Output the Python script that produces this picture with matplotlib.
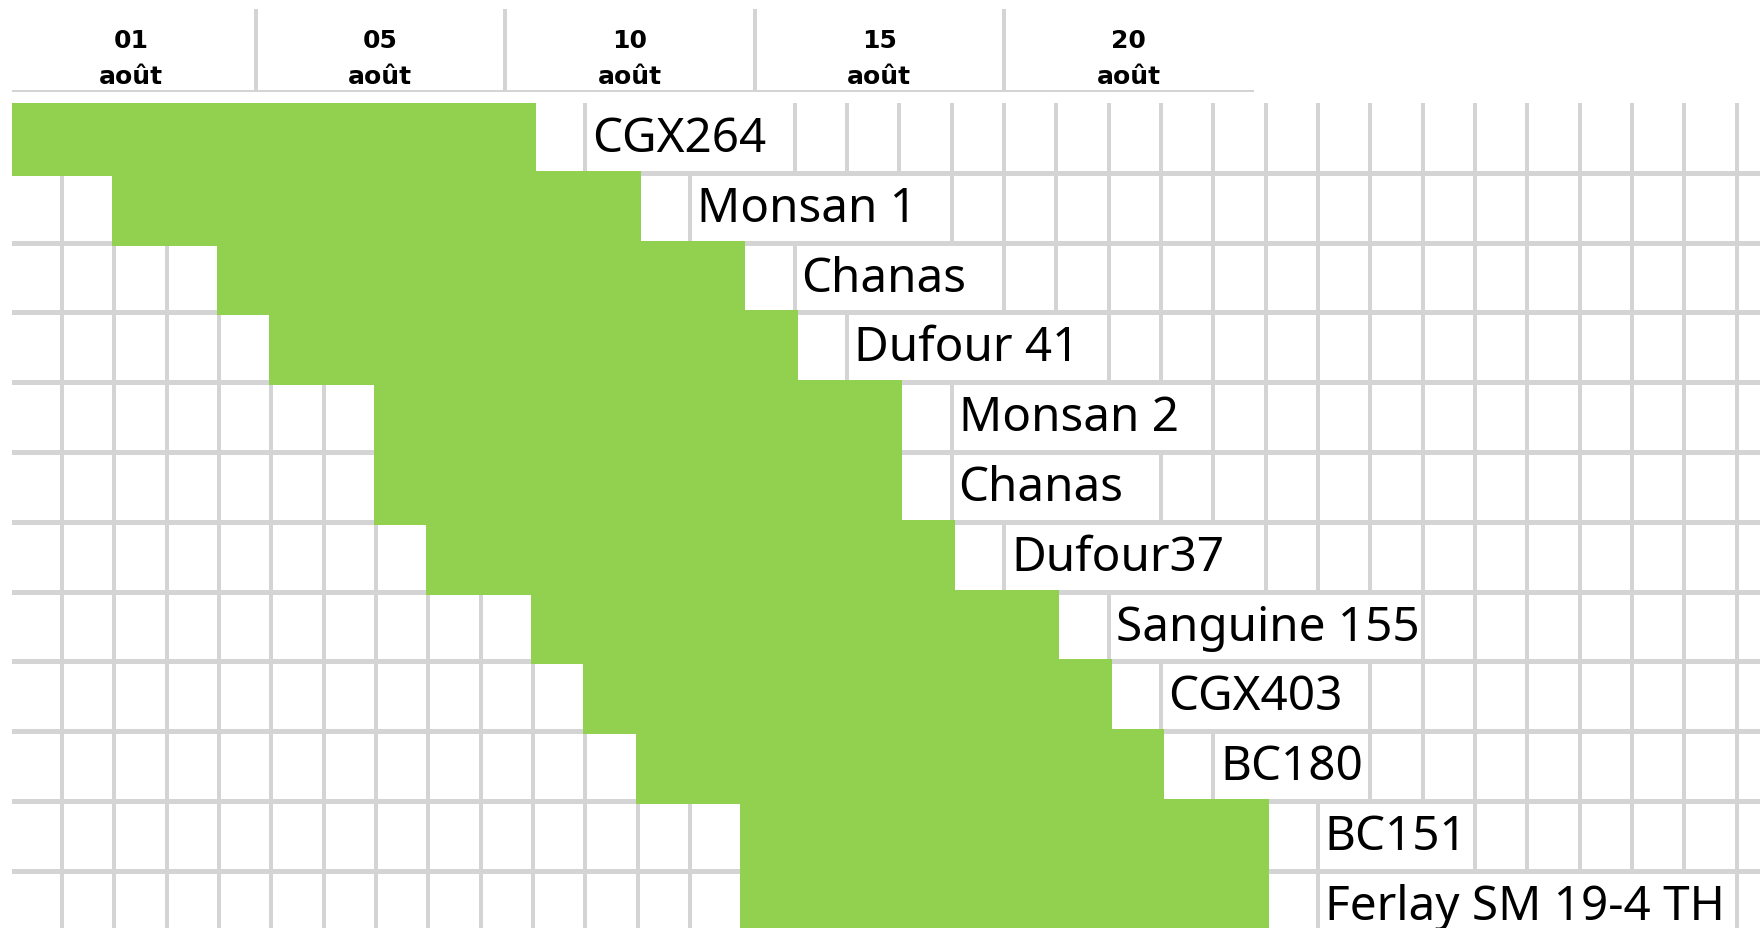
import math
import matplotlib
matplotlib.use("Agg")
import matplotlib.pyplot as plt
from matplotlib.patches import Rectangle

# ---- data ----
tasks = ["CGX264", "Monsan 1", "Chanas", "Dufour 41", "Monsan 2", "Chanas",
         "Dufour37", "Sanguine 155", "CGX403", "BC180", "BC151", "Ferlay SM 19-4 TH"]
start_day = [0, 2, 4, 5, 7, 7, 8, 10, 11, 12, 14, 14]
duration = [10, 10, 10, 10, 10, 10, 10, 10, 10, 10, 10, 10]
header_days = ["01", "05", "10", "15", "20"]
header_month = "août"

# ---- styles ----
GREEN = "#92D050"
GRID = "#D4D4D4"
W, H = 1760, 929
DPI = 100
PX = 72 / DPI

fig = plt.figure(figsize=(W / DPI, H / DPI), dpi=DPI)
fig.patch.set_facecolor("white")

# ---- main grid (Gantt) ----
col_w, col0, row_h, top, left = 52.33, 9.67, 69.8, 104, 12
ax = fig.add_axes([left / W, 0, (W - left) / W, (H - top) / H])
ax.set_xlim((left - col0) / col_w, (W - col0) / col_w)
ax.set_ylim((H - top) / row_h, 0)
ax.axis("off")

n_cols = int((W - col0) / col_w) + 1
for k in range(1, n_cols + 1):
    ax.axvline(k, color=GRID, lw=4 * PX, zorder=1)
n_rows = len(tasks)
for r in range(1, n_rows + 1):
    ax.axhline(r, color=GRID, lw=5 * PX, zorder=3)

ax.barh(range(n_rows), duration, left=start_day, height=1, align="edge",
        color=GREEN, edgecolor=GREEN, linewidth=5 * PX, zorder=4)

labels = []
for i, (name, s, d) in enumerate(zip(tasks, start_day, duration)):
    col = s + d + 1
    t = ax.annotate(name, xy=(col, i + 0.688), xytext=(5, 0),
                    textcoords="offset points", ha="left", va="baseline",
                    fontsize=34.3, family="Noto Sans", fontweight="medium",
                    color="black", zorder=5)
    labels.append((t, col, i))

fig.canvas.draw()
renderer = fig.canvas.get_renderer()
inv = ax.transData.inverted()
for t, col, i in labels:
    bb = t.get_window_extent(renderer)
    x_end = inv.transform((bb.x1, bb.y0))[0]
    k_end = math.ceil(x_end)
    ax.add_patch(Rectangle((col + 0.045, i), k_end - col - 0.09, 1,
                           facecolor="white", edgecolor="none", zorder=2))

# ---- header ----
hdr_w, hdr0, hdr_top, hdr_bot, hdr_right = 249.5, 6, 10, 93, 1253.5
hax = fig.add_axes([left / W, (H - hdr_bot) / H, (hdr_right - left) / W,
                    (hdr_bot - hdr_top) / H])
hax.set_xlim((left - hdr0) / hdr_w, (hdr_right - hdr0) / hdr_w)
hax.set_ylim(0, hdr_bot - hdr_top)
hax.axis("off")
for j in range(1, len(header_days)):
    hax.axvline(j, color=GRID, lw=4 * PX)
hax.axhline(1, color=GRID, lw=2 * PX)
for j, d in enumerate(header_days):
    hax.text(j + 0.5, 45, d, ha="center", va="baseline", fontsize=18,
             fontweight="bold", family="DejaVu Sans", color="black")
    hax.text(j + 0.5, 9, header_month, ha="center", va="baseline",
             fontsize=18, fontweight="bold", family="DejaVu Sans", color="black")

fig.savefig("out.png", dpi=DPI, facecolor="white")
